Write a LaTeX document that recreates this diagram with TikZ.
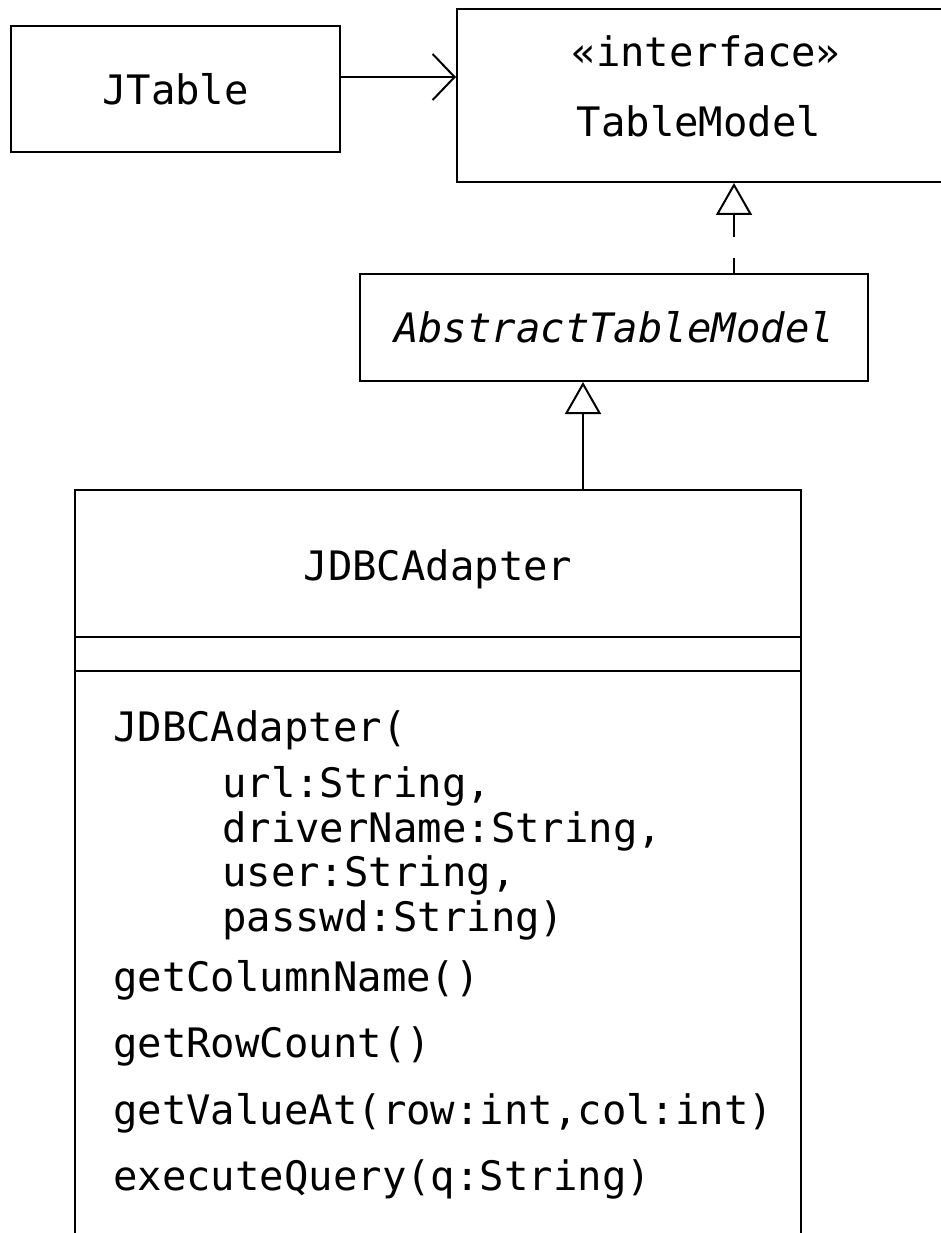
\documentclass[tikz,border=0pt]{standalone}
\usepackage{fontspec}
\setmonofont{DejaVu Sans Mono}
\usetikzlibrary{arrows.meta}
\newcommand{\umlfont}{\ttfamily\fontsize{40.6}{48}\selectfont}

\begin{document}
\begin{tikzpicture}[x=1pt, y=-1pt]
    \tikzset{classbox/.style = {shape=rectangle, draw, line width=2pt, inner sep=0pt, font=\umlfont}}
    \tikzset{txt/.style = {anchor=base, inner sep=0pt, font=\umlfont}}
    \tikzset{member/.style = {anchor=base west, inner sep=0pt, font=\umlfont}}
    \tikzset{edge/.style = {-{Straight Barb[length=22pt,width=46pt]}, line width=2pt}}
    \tikzset{inherit/.style = {-{Triangle[open,length=32pt,width=36pt,fill=white]}, line width=2pt}}
    \tikzset{realize/.style = {inherit, dash pattern=on 15pt off 21pt on 30pt}}

    \useasboundingbox (0,0) rectangle (940,1233);

    \node[classbox, minimum width=329pt, minimum height=126pt] (jtable) at (175.5,89) {JTable};
    \node[classbox, minimum width=487pt, minimum height=173pt] (tablemodel) at (700.5,95.5) {};
    \node[txt] (stereotype) at (706,67) {«interface»};
    \node[txt] (tablemodelname) at (699,137) {TableModel};
    \node[classbox, minimum width=508pt, minimum height=107pt, font=\umlfont\itshape] (abstractmodel) at (614,327.5) {AbstractTableModel};
    \node[classbox, minimum width=726pt, minimum height=760pt] (jdbc) at (438,870) {};
    \node[txt] (jdbcname) at (438,580) {JDBCAdapter};

    % compartments
    \draw[line width=2pt] (jdbc.west |- 0,637) -- (jdbc.east |- 0,637);
    \draw[line width=2pt] (jdbc.west |- 0,671) -- (jdbc.east |- 0,671);

    % operations
    \node[member] (ctor) at (113,741) {JDBCAdapter(};
    \node[member] (argurl) at (222,797) {url:String,};
    \node[member] (argdriver) at (222,842) {driverName:String,};
    \node[member] (arguser) at (222,886) {user:String,};
    \node[member] (argpasswd) at (222,931) {passwd:String)};
    \node[member] (getcolumn) at (113,991) {getColumnName()};
    \node[member] (getrow) at (113,1057) {getRowCount()};
    \node[member] (getvalue) at (113,1124) {getValueAt(row:int,col:int)};
    \node[member] (execquery) at (113,1190) {executeQuery(q:String)};

    \draw[edge] (jtable.east |- 0,77) to (tablemodel.west |- 0,77);
    \draw[inherit] (jdbc.north -| 583,0) to (abstractmodel.south -| 583,0);
    \draw[realize] (abstractmodel.north -| 734,0) to (tablemodel.south -| 734,0);
  \end{tikzpicture}
\end{document}
